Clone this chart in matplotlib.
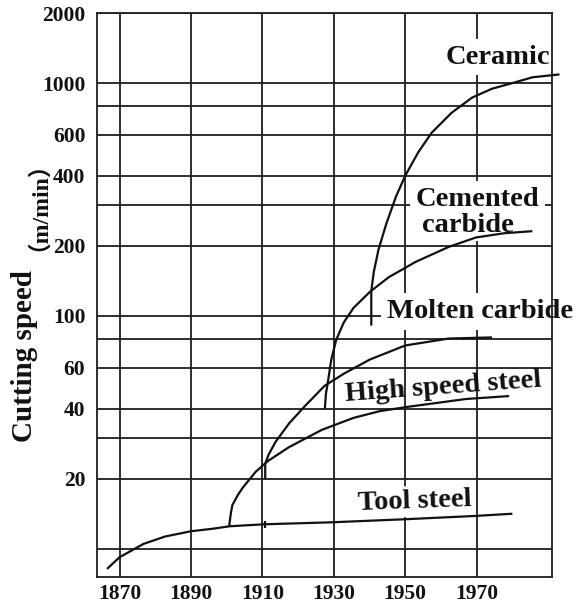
import matplotlib
matplotlib.use("Agg")
import matplotlib.pyplot as plt
from matplotlib.ticker import FixedLocator, FixedFormatter, NullLocator

# ---- data -------------------------------------------------------------
year_ticks = [1870, 1890, 1910, 1930, 1950, 1970]
speed_grid = [10, 20, 30, 40, 60, 80, 100, 200, 300, 400, 600, 800, 1000, 2000]
speed_labels = [20, 40, 60, 100, 200, 400, 600, 1000, 2000]

tool_years = [1866.5, 1870.0, 1876.7, 1882.8, 1890.0, 1896.1, 1900.8, 1910.6, 1929.3, 1950.0, 1969.8, 1980.0]
tool_speed = [8.2, 9.2, 10.5, 11.3, 11.9, 12.2, 12.5, 12.75, 13.0, 13.4, 13.85, 14.15]

hss_years = [1900.7, 1901.2, 1901.6, 1903.1, 1904.5, 1908.1, 1911.5, 1917.4, 1926.6, 1935.5, 1942.8, 1950.1, 1967.0, 1979.1]
hss_speed = [12.5, 14.3, 15.4, 17.0, 18.3, 21.4, 23.8, 27.3, 32.4, 36.5, 39.0, 40.6, 44.0, 45.3]

molten_years = [1910.8, 1910.8, 1911.7, 1913.7, 1917.5, 1921.9, 1927.4, 1932.8, 1940.1, 1950.0, 1962.2, 1974.3]
molten_speed = [20.0, 23.2, 25.3, 28.8, 34.6, 41.0, 50.1, 56.5, 65.0, 74.7, 80.0, 80.9]

cemented_years = [1927.5, 1927.8, 1928.4, 1929.3, 1930.7, 1932.8, 1935.5, 1940.1, 1945.5, 1950.0, 1952.9, 1962.2, 1969.8, 1977.7, 1985.6]
cemented_speed = [40.0, 46.3, 52.7, 65.0, 79.1, 93.8, 108.2, 126.9, 147.1, 160.9, 170.7, 198.0, 217.3, 226.6, 231.3]

ceramic_years = [1940.5, 1940.5, 1941.2, 1942.5, 1944.7, 1947.4, 1950.0, 1953.7, 1957.4, 1963.0, 1968.7, 1974.3, 1980.0, 1985.6, 1993.2]
ceramic_speed = [90.9, 128.1, 154.6, 192.2, 248.8, 325.3, 400, 506, 612, 746, 866, 946, 1000, 1059, 1090]

# small start mark on the tool steel curve
mark_years = [1910.8, 1910.8]
mark_speed = [12.25, 13.2]

# ---- figure -----------------------------------------------------------
serif = "Liberation Serif"
ink = "#111111"
grid_ink = "#1e1e1e"

fig = plt.figure(figsize=(5.85, 6.06), dpi=100)
ax = fig.add_axes([97 / 585, 29 / 606, 455 / 585, 564 / 606])

ax.set_yscale("log")
ax.set_xlim(1863.7, 1991.1)
ax.set_ylim(7.57, 2000)

ax.xaxis.set_major_locator(FixedLocator(year_ticks))
ax.xaxis.set_major_formatter(FixedFormatter([str(y) for y in year_ticks]))
ax.yaxis.set_major_locator(FixedLocator(speed_grid))
ax.yaxis.set_major_formatter(
    FixedFormatter([str(v) if v in speed_labels else "" for v in speed_grid]))
ax.yaxis.set_minor_locator(NullLocator())
ax.xaxis.set_minor_locator(NullLocator())

ax.set_axisbelow(True)
ax.grid(True, which="major", color=grid_ink, lw=1.3)
ax.tick_params(axis="both", length=0)
ax.tick_params(axis="y", pad=8.4)
ax.tick_params(axis="x", pad=5.0)
for lab in ax.get_xticklabels() + ax.get_yticklabels():
    lab.set_fontfamily(serif)
    lab.set_fontweight("bold")
    lab.set_fontsize(15.5)
    lab.set_color(ink)

for sp in ax.spines.values():
    sp.set_color(grid_ink)
    sp.set_linewidth(1.3)

curve_kw = dict(color=ink, lw=1.6, zorder=3, clip_on=False,
                solid_capstyle="butt", solid_joinstyle="round")
ax.plot(tool_years, tool_speed, **curve_kw)
ax.plot(hss_years, hss_speed, **curve_kw)
ax.plot(molten_years, molten_speed, **curve_kw)
ax.plot(cemented_years, cemented_speed, **curve_kw)
ax.plot(ceramic_years, ceramic_speed, **curve_kw)
ax.plot(mark_years, mark_speed, **curve_kw)

# ---- curve labels -----------------------------------------------------
lab_kw = dict(fontfamily=serif, fontweight="bold", fontsize=20.5, color=ink,
              zorder=2, clip_on=False)
box = dict(facecolor="white", edgecolor="none", pad=4)

ax.text(1961.3, 1212, "Ceramic", ha="left", va="baseline", bbox=box, **lab_kw)
ax.text(1970.2, 297, "Cemented", ha="center", va="baseline", bbox=box, **lab_kw)
ax.text(1967.7, 229, "carbide", ha="center", va="baseline", bbox=dict(box, pad=2), **lab_kw)
ax.text(1944.9, 97.9, "Molten carbide", ha="left", va="baseline", bbox=box, **lab_kw)
ax.text(1933.4, 43.1, "High speed steel", ha="left", va="baseline",
        rotation=4.2, rotation_mode="anchor", **lab_kw)
ax.text(1936.9, 14.7, "Tool steel", ha="left", va="baseline",
        rotation=2.0, rotation_mode="anchor", bbox=dict(box, pad=2), **lab_kw)

# ---- axis title -------------------------------------------------------
fig.text(24.5 / 585, 1 - 442 / 606, "Cutting speed", rotation=90,
         ha="center", va="bottom", fontfamily=serif, fontweight="bold",
         fontsize=21, color=ink)
fig.text(27 / 585, 1 - 251 / 606, "（m/min）", rotation=90,
         ha="center", va="bottom", family=[serif, "Noto Sans CJK SC"],
         fontweight="bold", fontsize=17, color=ink)

fig.savefig("out.png", dpi=100, facecolor="white")
